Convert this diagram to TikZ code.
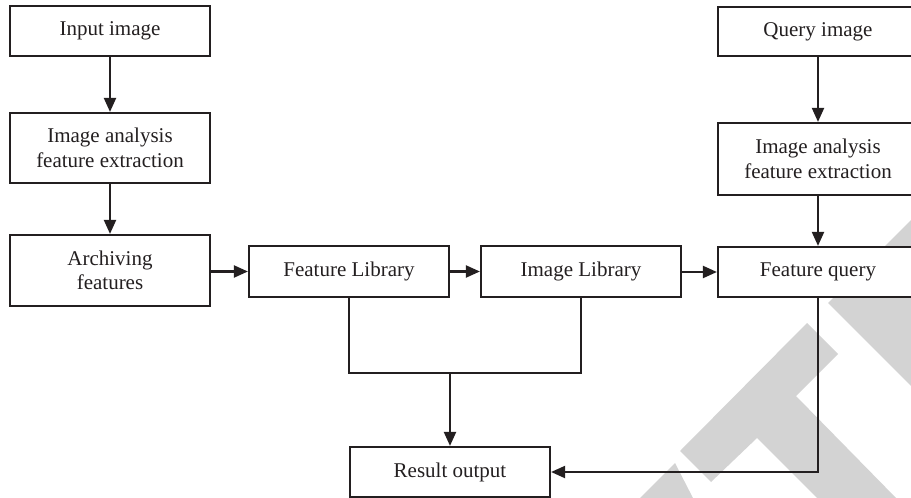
\documentclass[tikz,border=0pt]{standalone}
\usepackage{fontspec}
\setmainfont{Liberation Serif}
\usetikzlibrary{arrows.meta}
\definecolor{ink}{RGB}{35,31,32}
\definecolor{wmark}{RGB}{211,211,211}
\begin{document}
\begin{tikzpicture}[x=1pt,y=-1pt,
  box/.style={draw=ink, line width=2.2pt, fill=white, minimum width=200pt,
    inner sep=0pt, align=center, text=ink, font=\fontsize{21}{24.5}\selectfont},
  flow/.style={draw=ink, line width=2.1pt, -{Triangle[length=14pt,width=12pt]}},
  link/.style={draw=ink, line width=2.1pt}]
\useasboundingbox (0,0) rectangle (911,498);
\clip (0,0) rectangle (911,498);

% light background lettering
\fill[wmark] (828,303) -- (911,220) -- (911,386) -- cycle;
\fill[wmark] (680,451) -- (807,323) -- (838,354) -- (796,396) -- (898,500)
  -- (819,500) -- (757,438) -- (711,482) -- cycle;
\fill[wmark] (638,500) -- (675,463) -- (694,500) -- cycle;

% left column
\node[box, minimum height=50pt] (in1) at (110,31) {Input image};
\node[box, minimum height=70pt] (ia1) at (110,148) {Image analysis\\feature extraction};
\node[box, minimum height=71pt] (arch) at (110,270.5) {Archiving\\features};

% libraries
\node[box, minimum height=51pt] (fl) at (349,271.5) {Feature Library};
\node[box, minimum height=51pt] (il) at (581,271.5) {Image Library};

% query column
\node[box, minimum height=49pt] (qi) at (818,31.5) {Query image};
\node[box, minimum height=72pt] (ia2) at (818,159) {Image analysis\\feature extraction};
\node[box, minimum height=50pt] (fq) at (818,272) {Feature query};

% result
\node[box, minimum height=50pt] (res) at (450,472) {Result output};

% connectors
\draw[flow] (in1) -- (ia1);
\draw[flow] (ia1) -- (arch);
\draw[flow] (arch.east |- fl.west) -- (fl.west);
\draw[flow] (fl) -- (il);
\draw[flow] (il.east |- fq.west) -- (fq.west);
\draw[flow] (qi) -- (ia2);
\draw[flow] (ia2) -- (fq);

\path (fl.south) ++(0,75) coordinate (fj);
\draw[link] (fl.south) -- (fj) -| (il.south);
\draw[flow] (res.north |- fj) -- (res.north);
\draw[flow] (fq.south) |- (res.east);
\end{tikzpicture}
\end{document}
